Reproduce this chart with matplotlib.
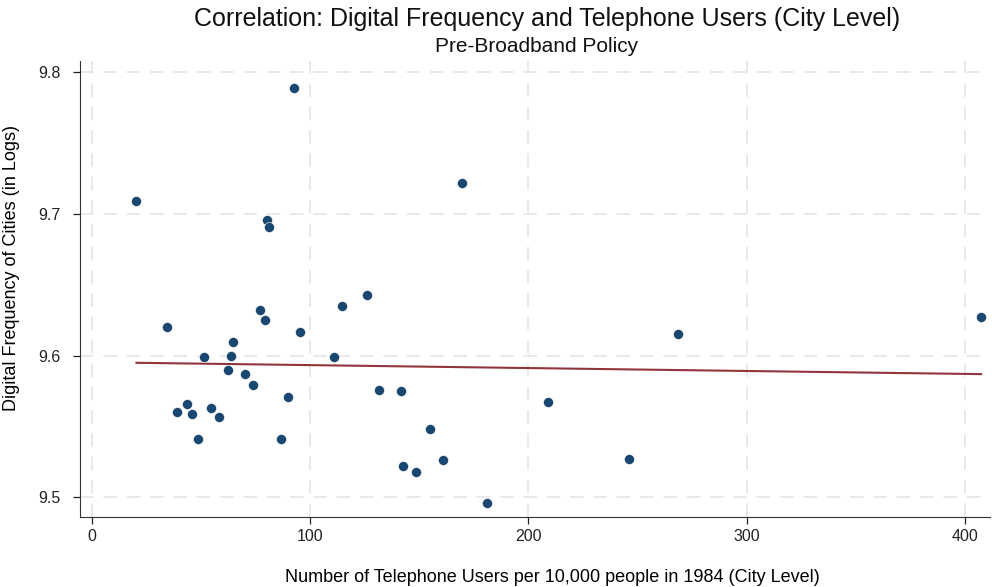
import numpy as np
import matplotlib
matplotlib.use("Agg")
import matplotlib.pyplot as plt

# =========================
# DADOS
# =========================
phone_users = [20.5, 34.4, 39.1, 43.7, 46.1, 48.6, 51.3, 54.8, 58.1, 62.6,
               63.7, 64.6, 70.3, 73.8, 77.1, 79.4, 80.2, 81.4, 86.6, 89.7,
               92.7, 95.3, 111.1, 114.7, 126.3, 131.4, 141.5, 142.4, 148.6, 154.9,
               161.0, 169.6, 181.0, 208.8, 246.3, 268.4, 407.4]
digital_freq = [9.709, 9.620, 9.560, 9.566, 9.559, 9.541, 9.599, 9.563, 9.557, 9.590,
                9.600, 9.610, 9.587, 9.579, 9.632, 9.625, 9.696, 9.691, 9.541, 9.571,
                9.789, 9.617, 9.599, 9.635, 9.643, 9.576, 9.575, 9.522, 9.518, 9.548,
                9.526, 9.722, 9.496, 9.567, 9.527, 9.615, 9.627]

# reta ajustada (lida do gráfico, não é OLS simples dos pontos)
fit_intercept = 9.5954
fit_slope = -0.0000207

x_ticks = [0, 100, 200, 300, 400]
y_ticks = [9.5, 9.6, 9.7, 9.8]

plt.rcParams['font.family'] = ['Liberation Sans', 'DejaVu Sans']

x = np.array(phone_users)
y = np.array(digital_freq)

x_fit = np.array([x.min(), x.max()])
y_fit = fit_intercept + fit_slope * x_fit

fig = plt.figure(figsize=(9.96, 5.87), dpi=100)
ax = fig.add_axes([0.080, 0.119, 0.914, 0.777])

ax.scatter(x, y, s=52, color="#1a476f", edgecolors="white", linewidths=0.4, zorder=3)
ax.plot(x_fit, y_fit, color="#90353b", linewidth=1.5, zorder=2)

ax.set_xlim(-5.5, 411.5)
ax.set_ylim(9.486, 9.808)
ax.set_xticks(x_ticks)
ax.set_yticks(y_ticks)
ax.set_yticklabels([f"{v:.1f}" for v in y_ticks])

ax.grid(True, color="#e9e9e9", linestyle=(0, (7, 5)), linewidth=1.4)
ax.set_axisbelow(True)

for side in ["top", "right"]:
    ax.spines[side].set_visible(False)
ax.spines["left"].set_color("#333333")
ax.spines["bottom"].set_color("#333333")
ax.tick_params(axis="both", labelsize=11.5, colors="#222222", length=5, width=0.9)
ax.tick_params(axis="y", pad=9)

ax.set_xlabel("Number of Telephone Users per 10,000 people in 1984 (City Level)",
              fontsize=13, va="center")
ax.set_ylabel("Digital Frequency of Cities (in Logs)", fontsize=13, va="center")
ax.xaxis.set_label_coords(0.519, -0.132)
ax.yaxis.set_label_coords(-0.075, 0.547)

fig.text(0.549, 0.968, "Correlation: Digital Frequency and Telephone Users (City Level)",
         ha="center", va="center", fontsize=18, color="#111111")
fig.text(0.539, 0.920, "Pre-Broadband Policy",
         ha="center", va="center", fontsize=15, color="#111111")

fig.savefig("out.png", dpi=100, facecolor="white")
